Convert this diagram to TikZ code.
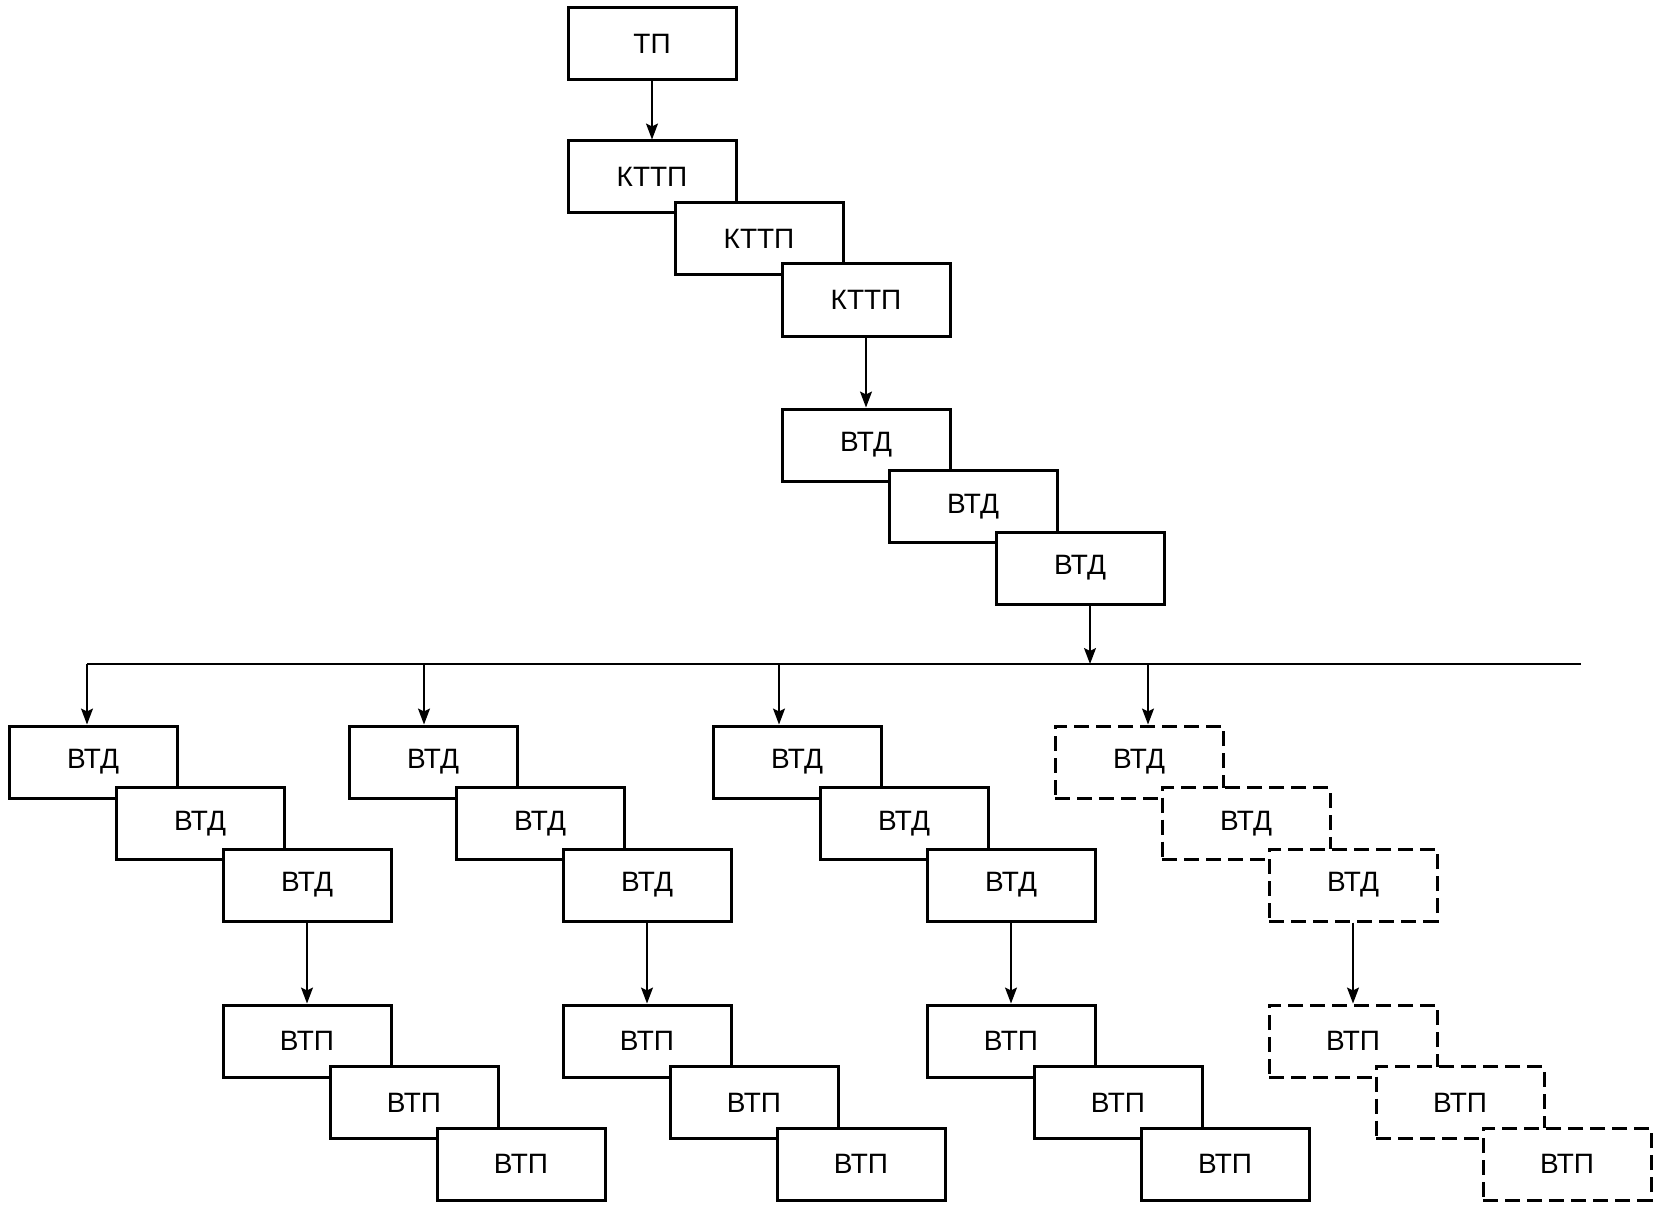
\documentclass[tikz,border=0pt]{standalone}
\usepackage{fontspec}
\setmainfont{Liberation Sans}
\usetikzlibrary{positioning, arrows.meta}
\tikzset{>={Stealth[length=8pt,width=6pt,inset=1.5pt]},
  box/.style={draw, line width=1.5pt, fill=white, minimum width=84pt,
    minimum height=36pt, inner sep=0pt, font=\fontsize{14}{16}\selectfont},
  dbox/.style={box, dash pattern=on 7.5pt off 3.5pt},
  nextbox/.style={below right=-6.75pt and -32pt of #1},
  link/.style={->, line width=0.8pt}}

\begin{document}
\begin{tikzpicture}
\useasboundingbox (0,0) rectangle (827pt,-604.5pt);
% top chain
\node[box] (tp) at (326pt,-22pt) {ТП};
\node[box, below=29pt of tp] (k1) {КТТП};
\node[box, nextbox=k1] (k2) {КТТП};
\node[box, nextbox=k2] (k3) {КТТП};
\node[box, below=35pt of k3] (v1) {ВТД};
\node[box, nextbox=v1] (v2) {ВТД};
\node[box, nextbox=v2] (v3) {ВТД};
\draw[link] (tp.south) -- (k1.north);
\draw[link] (k3.south) -- (v1.north);
% bus
\coordinate (busl) at (43.5pt,-332pt);
\coordinate (busr) at (790.5pt,-332pt);
\draw[line width=1pt] (busl) -- (busr);
\coordinate (vout) at ([xshift=5pt]v3.south);
\draw[link] (vout) -- (vout |- busl);
% group 1
\node[box] (g1a) at (46.5pt,-381pt) {ВТД};
\node[box, nextbox=g1a] (g1b) {ВТД};
\node[box, nextbox=g1b] (g1c) {ВТД};
\node[box, below=40.5pt of g1c] (g1d) {ВТП};
\node[box, nextbox=g1d] (g1e) {ВТП};
\node[box, nextbox=g1e] (g1f) {ВТП};
% group 2
\node[box] (g2a) at (216.5pt,-381pt) {ВТД};
\node[box, nextbox=g2a] (g2b) {ВТД};
\node[box, nextbox=g2b] (g2c) {ВТД};
\node[box, below=40.5pt of g2c] (g2d) {ВТП};
\node[box, nextbox=g2d] (g2e) {ВТП};
\node[box, nextbox=g2e] (g2f) {ВТП};
% group 3
\node[box] (g3a) at (398.5pt,-381pt) {ВТД};
\node[box, nextbox=g3a] (g3b) {ВТД};
\node[box, nextbox=g3b] (g3c) {ВТД};
\node[box, below=40.5pt of g3c] (g3d) {ВТП};
\node[box, nextbox=g3d] (g3e) {ВТП};
\node[box, nextbox=g3e] (g3f) {ВТП};
% group 4 (dashed)
\node[dbox] (g4a) at (569.5pt,-381pt) {ВТД};
\node[dbox, nextbox=g4a] (g4b) {ВТД};
\node[dbox, nextbox=g4b] (g4c) {ВТД};
\node[dbox, below=40.5pt of g4c] (g4d) {ВТП};
\node[dbox, nextbox=g4d] (g4e) {ВТП};
\node[dbox, nextbox=g4e] (g4f) {ВТП};
% drops from bus
\coordinate (d1) at (43.5pt,-332pt);
\coordinate (d2) at (212pt,-332pt);
\coordinate (d3) at (389.5pt,-332pt);
\coordinate (d4) at (574pt,-332pt);
\draw[link] (d1) -- (d1 |- g1a.north);
\draw[link] (d2) -- (d2 |- g2a.north);
\draw[link] (d3) -- (d3 |- g3a.north);
\draw[link] (d4) -- (d4 |- g4a.north);
\draw[link] (g1c.south) -- (g1d.north);
\draw[link] (g2c.south) -- (g2d.north);
\draw[link] (g3c.south) -- (g3d.north);
\draw[link] (g4c.south) -- (g4d.north);
\end{tikzpicture}
\end{document}
